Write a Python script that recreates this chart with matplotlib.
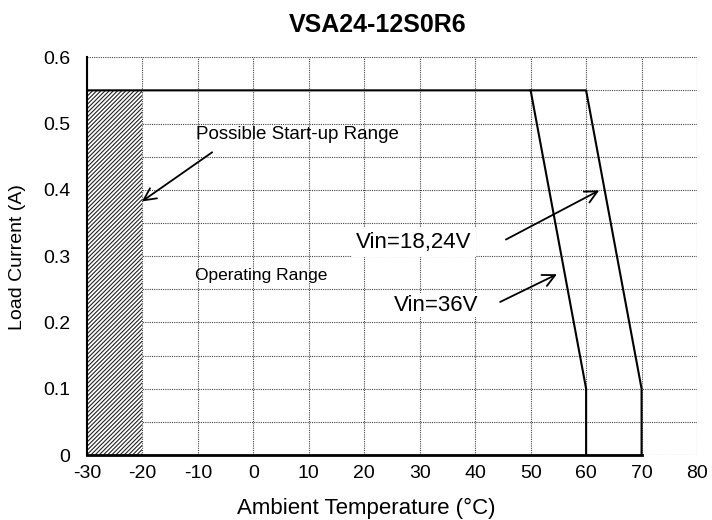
import matplotlib.pyplot as plt
import numpy as np

plt.rcParams['font.family'] = ['Liberation Sans', 'DejaVu Sans']
plt.rcParams['hatch.linewidth'] = 0.8

# derating curves (temperature in degC, current in A)
temp_36v = [-30, 50, 60, 60]
curr_36v = [0.55, 0.55, 0.1, 0.0]
temp_18v = [50, 60, 70, 70]
curr_18v = [0.55, 0.55, 0.1, 0.0]
startup_range = [-30, -20]
startup_max = 0.55
x_ticks = [-30, -20, -10, 0, 10, 20, 30, 40, 50, 60, 70, 80]
y_ticks = [0, 0.1, 0.2, 0.3, 0.4, 0.5, 0.6]

fig = plt.figure(figsize=(7.12, 5.2), dpi=100)
ax = fig.add_axes([0.122, 0.125, 0.857, 0.765])

ax.set_xlim(-30, 80)
ax.set_ylim(0, 0.6)

# dotted grid
dot = (0, (1, 1))
for x in x_ticks:
    ax.axvline(x, color='#444444', lw=0.8, ls=dot, zorder=1)
for y in np.arange(0, 0.601, 0.05):
    ax.axhline(y, color='#444444', lw=0.8, ls=dot, zorder=1)

# hatched start-up area
ax.fill_between(startup_range, 0, startup_max, facecolor='white',
                edgecolor='#222222', hatch='////////', lw=0, zorder=2)

# curves
ax.plot(temp_36v, curr_36v, color='black', lw=1.5, zorder=3)
ax.plot(temp_18v, curr_18v, color='black', lw=1.5, zorder=3)
ax.plot([-30, 70], [0, 0], color='black', lw=2, zorder=3, clip_on=False)

for s in ['top', 'right', 'bottom']:
    ax.spines[s].set_visible(False)
ax.spines['left'].set_linewidth(1.5)

ax.set_xticks(x_ticks)
ax.set_yticks(y_ticks)
ax.set_xticklabels([str(v) for v in x_ticks])
ax.set_yticklabels(['0'] + ['%.1f' % v for v in y_ticks[1:]])
ax.tick_params(length=0, labelsize=14)
ax.tick_params(axis='x', pad=7)
ax.tick_params(axis='y', pad=12)

# annotations
arrow = dict(arrowstyle='->', color='black', lw=1.3, mutation_scale=22)
ax.text(-10.3, 0.483, 'Possible Start-up Range', fontsize=13.5,
        ha='left', va='center', zorder=4)
ax.annotate('', xy=(-20.5, 0.38), xytext=(-7, 0.459), arrowprops=arrow, zorder=4)
ax.text(-10.5, 0.27, 'Operating Range', fontsize=12.5,
        ha='left', va='center', zorder=4)
ax.text(29.0, 0.321, 'Vin=18,24V', fontsize=16, ha='center', va='center',
        bbox=dict(facecolor='white', edgecolor='none', pad=3), zorder=4)
ax.annotate('', xy=(62.8, 0.401), xytext=(45.1, 0.323), arrowprops=arrow, zorder=4)
ax.text(32.9, 0.226, 'Vin=36V', fontsize=16, ha='center', va='center',
        bbox=dict(facecolor='white', edgecolor='none', pad=1), zorder=4)
ax.annotate('', xy=(55.2, 0.2745), xytext=(44.05, 0.229), arrowprops=arrow, zorder=4)

fig.text(0.531, 0.952, 'VSA24-12S0R6', fontsize=18, fontweight='bold',
         ha='center', va='center')
fig.text(0.514, 0.023, 'Ambient Temperature (°C)', fontsize=16,
         ha='center', va='center')
fig.text(0.025, 0.505, 'Load Current (A)', fontsize=14, rotation=90,
         ha='center', va='center')

fig.savefig('out.png', dpi=100)
